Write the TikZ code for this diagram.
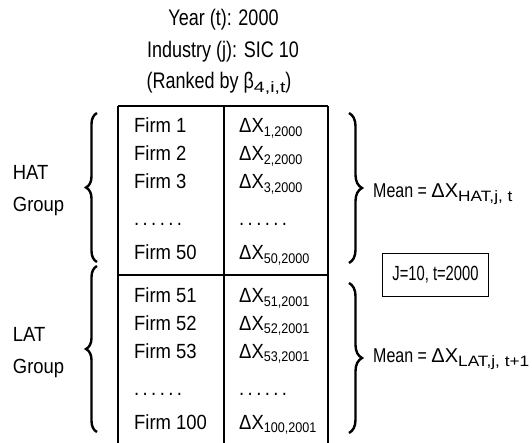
\documentclass[tikz,border=0pt]{standalone}
\usepackage{fontspec}
\setmainfont{Liberation Sans}[FakeStretch=0.9]
\newfontfamily\titlefont{Liberation Sans}[FakeStretch=0.8]
\newfontfamily\meanfont{Liberation Sans}[FakeStretch=0.8]
\newfontfamily\boxfont{Liberation Sans}[FakeStretch=0.72]
\newfontfamily\deltafont{Liberation Sans}[FakeStretch=1.0]
\newfontfamily\widesubfont{Liberation Sans}[FakeStretch=1.15]
\newfontfamily\rankfont{Liberation Sans}[FakeStretch=1.3]
\usetikzlibrary{decorations.pathreplacing}
\newcommand\lsub[1]{\raisebox{-3.5pt}{\fontsize{14}{14}\selectfont #1}}
\newcommand\msub[1]{\raisebox{-4pt}{\fontsize{15}{15}\widesubfont #1}}
\newcommand\rsub[1]{\raisebox{-4pt}{\fontsize{15}{15}\rankfont #1}}
\newcommand\dotrow{.\kern3.4pt.\kern3.4pt.\kern3.4pt.\kern3.4pt.\kern3.4pt.}
\begin{document}
\begin{tikzpicture}[x=1pt,y=-1pt,
  txt/.style={inner sep=0pt,anchor=base west,font=\fontsize{20.5}{24}\selectfont},
  ttl/.style={inner sep=0pt,anchor=base,font=\fontsize{22.5}{26}\titlefont},
  mean/.style={inner sep=0pt,anchor=base west,font=\fontsize{20}{24}\meanfont},
  tline/.style={line width=1.1pt},
  lbrace/.style={decorate,decoration={brace,amplitude=11pt,aspect=0.5},line width=2.4pt},
  rbrace/.style={decorate,decoration={brace,amplitude=13pt,aspect=0.5},line width=2.4pt},
  boxnode/.style={draw,line width=0.9pt,inner sep=0pt,minimum width=105.6pt,minimum height=43.4pt,font=\fontsize{20.5}{24}\boxfont}
]
\useasboundingbox[fill=white] (0,0) rectangle (532,443);

% titles
\node[ttl] (year) at (223.5,26) {Year (t): 2000};
\node[ttl] (ind) at (223,57.7) {Industry (j): SIC 10};
\node[ttl] (rank) at (219,88.3) {(Ranked by β\rsub{4,i,t})};

% table frame
\coordinate (tl) at (118,106);
\coordinate (tm) at (224,106);
\coordinate (tr) at (328,106);
\coordinate (bl) at (118,443);
\coordinate (bm) at (224,443);
\coordinate (br) at (328,443);
\coordinate (ml) at (118,275);
\coordinate (mr) at (328,275);
\draw[tline] (tl) -- (tr);
\draw[tline] (tl) -- (bl);
\draw[tline] (tm) -- (bm);
\draw[tline] (tr) -- (br);
\draw[tline] (ml) -- (mr);

% HAT rows
\node[txt] (f1) at (134,133) {Firm 1};
\node[txt] (f2) at (134,161) {Firm 2};
\node[txt] (f3) at (134,189) {Firm 3};
\node[txt] (f4) at (134,226) {\dotrow};
\node[txt] (f5) at (134,260) {Firm 50};
\node[txt] (x1) at (239,133) {ΔX\lsub{1,2000}};
\node[txt] (x2) at (239,161) {ΔX\lsub{2,2000}};
\node[txt] (x3) at (239,189) {ΔX\lsub{3,2000}};
\node[txt] (x4) at (239,226) {\dotrow};
\node[txt] (x5) at (239,260) {ΔX\lsub{50,2000}};

% LAT rows
\node[txt] (g1) at (134,302.5) {Firm 51};
\node[txt] (g2) at (134,330) {Firm 52};
\node[txt] (g3) at (134,358) {Firm 53};
\node[txt] (g4) at (134,395) {\dotrow};
\node[txt] (g5) at (134,429) {Firm 100};
\node[txt] (y1) at (239,302.5) {ΔX\lsub{51,2001}};
\node[txt] (y2) at (239,330) {ΔX\lsub{52,2001}};
\node[txt] (y3) at (239,358) {ΔX\lsub{53,2001}};
\node[txt] (y4) at (239,395) {\dotrow};
\node[txt] (y5) at (239,429) {ΔX\lsub{100,2001}};

% group labels
\node[txt] (hat) at (12.7,180) {HAT};
\node[txt] (hatg) at (12.7,212) {Group};
\node[txt] (lat) at (12.7,341.7) {LAT};
\node[txt] (latg) at (12.7,373) {Group};

% left braces
\coordinate (lht) at (97,113);
\coordinate (lhb) at (97,262);
\coordinate (llt) at (97,266);
\coordinate (llb) at (97,432);
\draw[lbrace] (lhb) -- (lht);
\draw[lbrace] (llb) -- (llt);

% right braces
\coordinate (rht) at (349,113);
\coordinate (rhb) at (349,263);
\coordinate (rlt) at (349,283);
\coordinate (rlb) at (349,433);
\draw[rbrace] (rht) -- (rhb);
\draw[rbrace] (rlt) -- (rlb);

% means
\node[mean] (mh) at (373,198) {Mean = {\deltafont ΔX}\msub{HAT,j, t}};
\node[mean] (ml2) at (373,362) {Mean = {\deltafont ΔX}\msub{LAT,j, t+1}};

% box
\node[boxnode] (jt) at (435.5,275) {J=10, t=2000};
\end{tikzpicture}
\end{document}
